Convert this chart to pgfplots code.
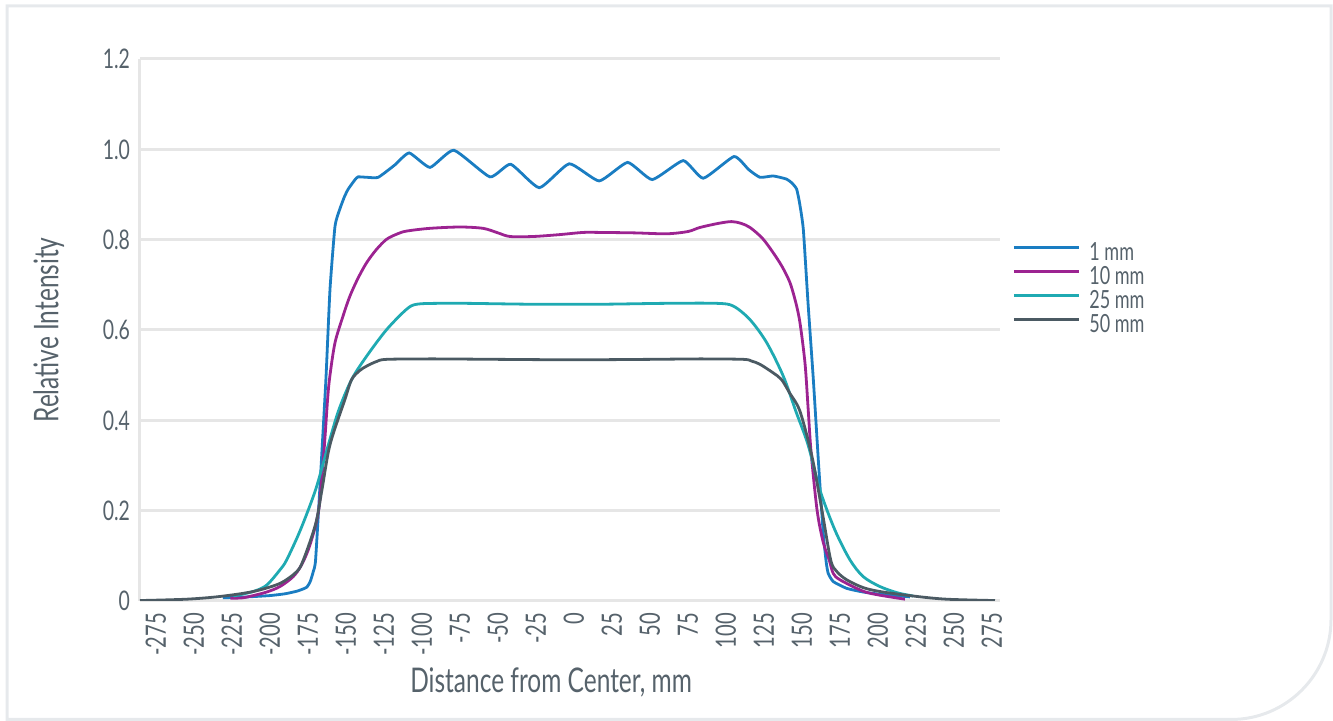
\documentclass[border=0pt]{standalone}
\usepackage{fontspec}
\setmainfont{Lato}[FakeStretch=0.72]
\usepackage{pgfplots}
\pgfplotsset{compat=1.18}
\definecolor{txt}{HTML}{56626B}
\definecolor{grd}{HTML}{E6E6E6}
\definecolor{frm}{HTML}{E6E9EC}
\definecolor{c1}{HTML}{1A7DC2}
\definecolor{c2}{HTML}{9C2391}
\definecolor{c3}{HTML}{1FAAB2}
\definecolor{c4}{HTML}{4B5A63}
\begin{document}
\begin{tikzpicture}
\path[use as bounding box] (0,0) rectangle (666.5pt,360.5pt);
\draw[frm, line width=1.5pt] (3.5pt,0.75pt) -- (3.5pt,357.5pt) -- (665.5pt,357.5pt) -- (665.5pt,50.75pt) arc[start angle=0,end angle=-90,radius=50pt] -- cycle;
\begin{axis}[
  at={(70pt,60pt)}, anchor=south west,
  scale only axis, width=430pt, height=271pt,
  xmin=-285.5, xmax=280.3, ymin=0, ymax=1.2,
  xtick={-275,-250,-225,-200,-175,-150,-125,-100,-75,-50,-25,0,25,50,75,100,125,150,175,200,225,250,275},
  xticklabels={-275,-250,-225,-200,-175,-150,-125,-100,-75,-50,-25,0,25,50,75,100,125,150,175,200,225,250,275},
  ytick={0,0.2,0.4,0.6,0.8,1,1.2},
  yticklabels={0,0.2,0.4,0.6,0.8,1.0,1.2},
  x tick label style={rotate=90, anchor=east, font=\fontsize{14}{16}\selectfont, text=txt, xshift=-2.5pt},
  y tick label style={font=\fontsize{13.5}{16}\selectfont, text=txt, xshift=-1.5pt},
  major tick length=0pt,
  ymajorgrids, grid style={grd, line width=1.5pt},
  axis x line=bottom, axis y line=left,
  axis line style={grd, line width=1.5pt, -},
  xlabel={Distance from Center, mm}, ylabel={Relative Intensity},
  xlabel style={at={(axis description cs:0.478,0)}, anchor=north, yshift=-30pt, font=\fontsize{17}{19}\selectfont, text=txt},
  ylabel style={at={(axis description cs:-0.106,0.5)}, anchor=center, font=\fontsize{17}{19}\selectfont, text=txt},
  legend style={at={(axis description cs:1.014,0.664)}, anchor=north west, draw=none, fill=none,
    font=\fontsize{12.5}{14}\selectfont, text=txt, inner sep=0pt, row sep=0pt,
    nodes={inner sep=0.5pt, text height=9pt, text depth=2pt}},
  legend cell align=left,
  legend image code/.code={\draw[#1, line width=1.5pt] (0pt,3pt) -- (32.5pt,3pt);},
]
\addplot[c1, line width=1.4pt, smooth, tension=0.3] coordinates {
(-231,0.007) (-215,0.009) (-200,0.012) (-190,0.016) (-182,0.022) (-176,0.03) (-173.5,0.043) (-171.5,0.065) (-170,0.09) (-167,0.26) (-163.2,0.49) (-160.5,0.69) (-157.2,0.83) (-154,0.868) (-151,0.895) (-148.5,0.912) (-144,0.933) (-142,0.939) (-136,0.938) (-128.8,0.938) (-118,0.965) (-108.4,0.992) (-94.7,0.960) (-79,0.998) (-55.3,0.939) (-41.6,0.967) (-22.8,0.915) (-3.1,0.968) (16.6,0.930) (35.3,0.971) (51.5,0.933) (71.9,0.975) (85.1,0.936) (105.3,0.984) (115,0.955) (122.4,0.938) (131.1,0.941) (139.9,0.934) (143.5,0.925) (146.5,0.912) (148.5,0.88) (150.9,0.823) (154,0.66) (157.5,0.49) (161,0.30) (164,0.15) (166,0.085) (167.3,0.061) (170.6,0.043) (179.4,0.028) (190,0.02) (201.3,0.015) (221,0.009)
};
\addlegendentry{\hspace{4pt}1 mm}
\addplot[c2, line width=1.4pt, smooth, tension=0.5] coordinates {
(-226,0.006) (-218,0.007) (-211,0.012) (-202,0.02) (-193.4,0.032) (-184.7,0.054) (-179.2,0.08) (-173.7,0.124) (-168,0.2) (-164.5,0.33) (-162,0.45) (-160.5,0.50) (-157.2,0.572) (-152,0.63) (-147.4,0.675) (-142,0.715) (-136.4,0.749) (-130,0.778) (-123.2,0.801) (-116,0.813) (-110.1,0.819) (-95,0.825) (-75,0.828) (-59.7,0.825) (-50,0.815) (-42.1,0.807) (-26.8,0.807) (-10,0.811) (6.1,0.816) (17.1,0.816) (40,0.815) (61,0.813) (75,0.818) (82.9,0.827) (95,0.836) (103.7,0.840) (110,0.836) (115.8,0.827) (124,0.803) (131.1,0.771) (137,0.74) (142.1,0.705) (146,0.66) (148.7,0.616) (152,0.527) (154,0.43) (156,0.33) (160,0.2) (164,0.13) (168,0.09) (170.6,0.061) (175,0.047) (190,0.022) (201,0.013) (217.8,0.004)
};
\addlegendentry{\hspace{4pt}10 mm}
\addplot[c3, line width=1.4pt, smooth, tension=0.5] coordinates {
(-224,0.011) (-211,0.021) (-202.2,0.035) (-193.4,0.069) (-189,0.091) (-180,0.157) (-170,0.246) (-162.5,0.335) (-155,0.42) (-146.3,0.49) (-136.4,0.542) (-123.2,0.601) (-110.1,0.646) (-103.5,0.657) (-90,0.659) (-70.6,0.659) (-26.8,0.657) (17.1,0.657) (60,0.659) (93.9,0.659) (104.8,0.653) (115.8,0.623) (126.8,0.572) (137.7,0.498) (146,0.42) (154,0.346) (161.8,0.246) (171.7,0.157) (181.6,0.091) (190.3,0.054) (201.3,0.032) (213,0.018) (223.2,0.011)
};
\addlegendentry{\hspace{4pt}25 mm}
\addplot[c4, line width=1.4pt, smooth, tension=0.5] coordinates {
(-285.5,0.001) (-254.8,0.004) (-232.9,0.01) (-211,0.021) (-193.4,0.039) (-182.4,0.065) (-178,0.091) (-170,0.17) (-165.8,0.246) (-160.5,0.346) (-150.7,0.446) (-146.3,0.49) (-141,0.51) (-136.4,0.52) (-130,0.53) (-123.2,0.535) (-92.4,0.536) (-50,0.535) (0,0.534) (50,0.535) (82.9,0.536) (111.4,0.535) (117,0.531) (122.4,0.524) (131.1,0.505) (136.6,0.49) (142,0.46) (148.7,0.42) (156.6,0.32) (163.2,0.2) (168.9,0.091) (173,0.065) (179.4,0.047) (190,0.03) (201.3,0.021) (223.2,0.011) (245,0.004) (277,0.001)
};
\addlegendentry{\hspace{4pt}50 mm}
\end{axis}
\end{tikzpicture}
\end{document}
